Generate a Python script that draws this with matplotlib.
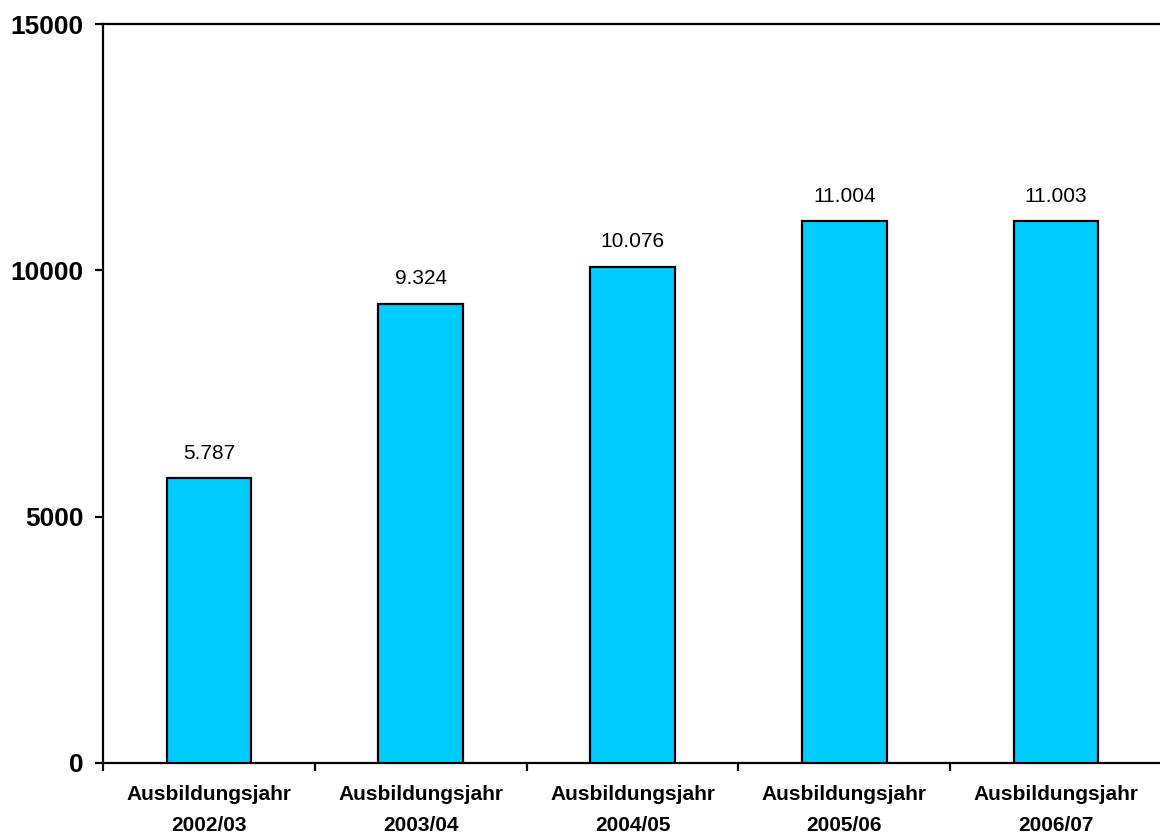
import numpy as np
import matplotlib as mpl
from matplotlib import pyplot as plt
from matplotlib.ticker import FixedLocator

# data
years = ["2002/03", "2003/04", "2004/05", "2005/06", "2006/07"]
values = [5787, 9324, 10076, 11004, 11003]
value_labels = ["5.787", "9.324", "10.076", "11.004", "11.003"]

plt.rcParams['font.family'] = ['Liberation Sans', 'DejaVu Sans']

fig = plt.figure(figsize=(11.6, 8.35), dpi=100)
ax = fig.add_axes([103 / 1160, 72 / 835, 1059 / 1160, 739 / 835])

x = np.arange(len(years))
bars = ax.bar(x, values, width=0.4, color='#00CCFF', edgecolor='black', linewidth=1.6, zorder=3)

for b, lab in zip(bars, value_labels):
    ax.annotate(lab, (b.get_x() + b.get_width() / 2, b.get_height()),
                xytext=(0, 11), textcoords='offset points',
                ha='center', va='bottom', fontsize=15)

ax.set_xlim(-0.5, len(years) - 0.5)
ax.set_ylim(0, 15000)
ax.set_yticks([0, 5000, 10000, 15000])
ax.set_yticklabels(["0", "5000", "10000", "15000"], fontsize=19, fontweight='bold')

# ticks between categories, labels under the bars
ax.xaxis.set_major_locator(FixedLocator(np.arange(len(years) + 1) - 0.5))
ax.xaxis.set_major_formatter(mpl.ticker.NullFormatter())
ax.xaxis.set_minor_locator(FixedLocator(x))
ax.set_xticklabels(["Ausbildungsjahr\n" + y for y in years], minor=True,
                   fontsize=15, fontweight='bold', linespacing=1.8)
ax.tick_params(axis='x', which='minor', length=0, pad=16)
ax.tick_params(axis='x', which='major', length=6, width=1.6, direction='out')
ax.tick_params(axis='y', length=6, width=1.6, direction='out', pad=8)

for s in ['left', 'bottom', 'top']:
    ax.spines[s].set_linewidth(1.6)
ax.spines['right'].set_visible(False)

fig.savefig('out.png', dpi=100)
